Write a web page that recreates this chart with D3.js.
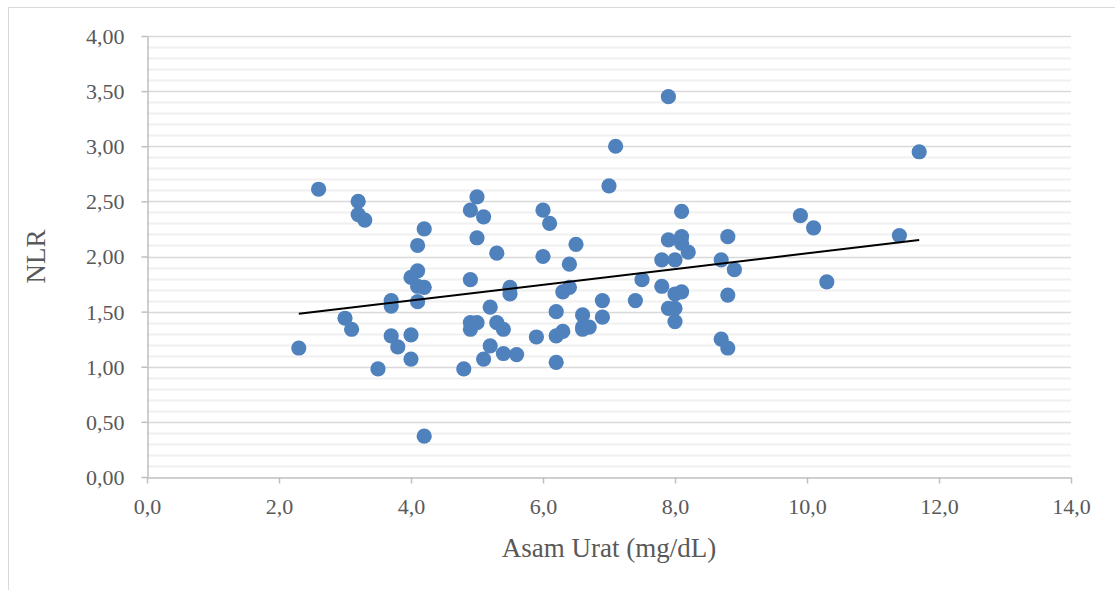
<!DOCTYPE html>
<html>
<head>
<meta charset="utf-8">
<script src="https://cdn.jsdelivr.net/npm/d3@7"></script>
<style>
  body { margin: 0; background: #fff; }
  svg { display: block; font-family: "Liberation Serif", "DejaVu Serif", serif; }
</style>
</head>
<body>
<script>
// Scatter data: uric acid (mg/dL) vs NLR
const asamUrat = [
  2.3, 2.6, 3.0, 3.1, 3.2, 3.2, 3.3, 3.5, 3.7, 3.7, 3.7, 3.8, 4.0, 4.0, 4.0,
  4.1, 4.1, 4.1, 4.1, 4.2, 4.2, 4.2, 4.8, 4.9, 4.9, 4.9, 4.9, 5.0, 5.0, 5.0,
  5.1, 5.1, 5.2, 5.2, 5.3, 5.3, 5.4, 5.4, 5.5, 5.5, 5.6, 5.9, 6.0, 6.0, 6.1,
  6.2, 6.2, 6.2, 6.3, 6.3, 6.4, 6.4, 6.5, 6.6, 6.6, 6.6, 6.7, 6.9, 6.9, 7.0,
  7.1, 7.4, 7.5, 7.8, 7.8, 7.9, 7.9, 7.9, 8.0, 8.0, 8.0, 8.0, 8.1, 8.1, 8.1,
  8.1, 8.2, 8.7, 8.7, 8.8, 8.8, 8.8, 8.9, 9.9, 10.1, 10.3, 11.4, 11.7
];
const nlr = [
  1.17, 2.61, 1.44, 1.34, 2.50, 2.38, 2.33, 0.98, 1.60, 1.55, 1.28, 1.18, 1.29, 1.07, 1.81,
  2.10, 1.87, 1.73, 1.59, 2.25, 1.72, 0.37, 0.98, 1.79, 2.42, 1.40, 1.34, 2.54, 2.17, 1.40,
  2.36, 1.07, 1.54, 1.19, 2.03, 1.40, 1.34, 1.12, 1.72, 1.66, 1.11, 1.27, 2.42, 2.00, 2.30,
  1.50, 1.28, 1.04, 1.68, 1.32, 1.72, 1.93, 2.11, 1.47, 1.36, 1.34, 1.36, 1.60, 1.45, 2.64,
  3.00, 1.60, 1.79, 1.97, 1.73, 3.45, 2.15, 1.53, 1.97, 1.66, 1.53, 1.41, 2.41, 2.18, 2.12,
  1.68, 2.04, 1.97, 1.25, 2.18, 1.65, 1.17, 1.88, 2.37, 2.26, 1.77, 2.19, 2.95
];
// linear trendline end points
const trendX = [2.3, 11.7];
const trendY = [1.48, 2.15];

const xTicks = [0, 2, 4, 6, 8, 10, 12, 14];
const yTicks = [0, 0.5, 1, 1.5, 2, 2.5, 3, 3.5, 4];
const yMinor = d3.range(0, 40).map(i => i / 10);

const width = 1115, height = 590;
const margin = {left: 147, right: 44, top: 36, bottom: 113};

const comma = f => v => f(v).replace('.', ',');
const fmtX = comma(d3.format('.1f'));
const fmtY = comma(d3.format('.2f'));

const svg = d3.select('body').append('svg')
    .attr('width', width)
    .attr('height', height);

// chart border (cut off at the right and bottom like the screenshot)
svg.append('rect')
    .attr('x', 8.5).attr('y', 7.5)
    .attr('width', width + 10).attr('height', height + 10)
    .attr('fill', 'none')
    .attr('stroke', '#d9d9d9');

const x = d3.scaleLinear().domain([0, 14]).range([margin.left, width - margin.right]);
const y = d3.scaleLinear().domain([0, 4]).range([height - margin.bottom, margin.top]);

// minor gridlines
svg.append('g')
    .selectAll('line')
    .data(yMinor.filter(v => !yTicks.includes(v)))
    .enter().append('line')
    .attr('x1', x(0)).attr('x2', x(14))
    .attr('y1', d => Math.round(y(d)) + 0.5)
    .attr('y2', d => Math.round(y(d)) + 0.5)
    .attr('stroke', '#f0f0f0')
    .attr('stroke-width', 2);

// major gridlines
svg.append('g')
    .selectAll('line')
    .data(yTicks.slice(1))
    .enter().append('line')
    .attr('x1', x(0)).attr('x2', x(14))
    .attr('y1', d => Math.round(y(d)) + 0.5)
    .attr('y2', d => Math.round(y(d)) + 0.5)
    .attr('stroke', '#d9d9d9')
    .attr('stroke-width', 1.5);

// axes
const xAxis = svg.append('g')
    .attr('transform', 'translate(0,' + (Math.round(y(0)) + 0.5) + ')')
    .call(d3.axisBottom(x).tickValues(xTicks).tickFormat(fmtX).tickSizeInner(6).tickSizeOuter(0).tickPadding(15));

const yAxis = svg.append('g')
    .attr('transform', 'translate(' + (Math.round(x(0)) + 0.5) + ',0)')
    .call(d3.axisLeft(y).tickValues(yTicks).tickFormat(fmtY).tickSizeInner(6).tickSizeOuter(0).tickPadding(17));

[xAxis, yAxis].forEach(a => {
    a.select('.domain').attr('stroke', '#bfbfbf').attr('stroke-width', 1.5);
    a.selectAll('.tick line').attr('stroke', '#bfbfbf').attr('stroke-width', 1.5);
    a.selectAll('.tick text')
        .attr('fill', '#595959')
        .attr('font-size', 22)
        .attr('font-family', '"Liberation Serif", "DejaVu Serif", serif');
});
yAxis.selectAll('.tick text').attr('dy', '0.34em');

// points
svg.append('g')
    .selectAll('circle')
    .data(asamUrat.map((v, i) => [v, nlr[i]]))
    .enter().append('circle')
    .attr('cx', d => x(d[0]))
    .attr('cy', d => y(d[1]))
    .attr('r', 7.6)
    .attr('fill', '#4f81bd');

// trendline
svg.append('line')
    .attr('x1', x(trendX[0])).attr('y1', y(trendY[0]))
    .attr('x2', x(trendX[1])).attr('y2', y(trendY[1]))
    .attr('stroke', '#000')
    .attr('stroke-width', 2);

// axis titles
svg.append('text')
    .attr('x', (x(0) + x(14)) / 2)
    .attr('y', 557)
    .attr('text-anchor', 'middle')
    .attr('fill', '#595959')
    .attr('font-size', 27)
    .text('Asam Urat (mg/dL)');

svg.append('text')
    .attr('transform', 'translate(45,' + ((y(0) + y(4)) / 2) + ') rotate(-90)')
    .attr('text-anchor', 'middle')
    .attr('fill', '#595959')
    .attr('font-size', 27)
    .text('NLR');
</script>
</body>
</html>
